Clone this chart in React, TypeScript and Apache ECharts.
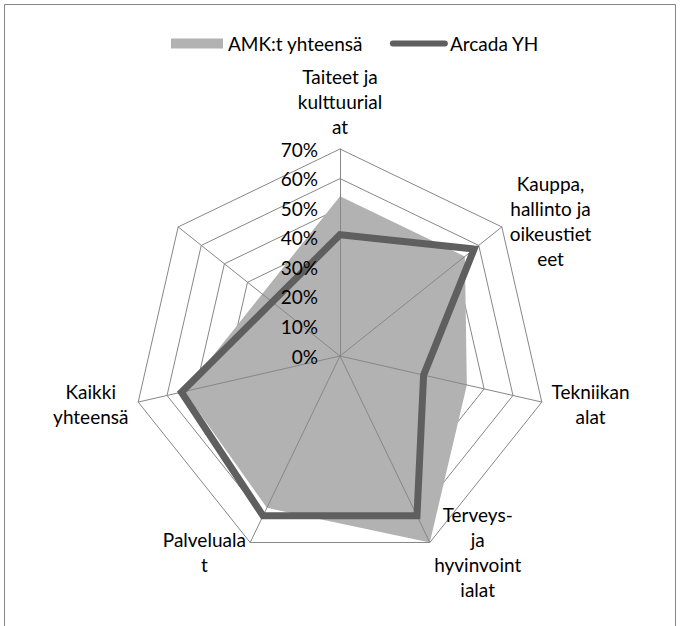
import React, { useEffect, useRef } from 'react';
import * as echarts from 'echarts';

// Categories clockwise from the top (line breaks as wrapped in the original)
const categories: string[] = [
  'Taiteet ja\nkulttuurial\nat',
  'Kauppa,\nhallinto ja\noikeustiet\neet',
  'Tekniikan\nalat',
  'Terveys-\nja\nhyvinvoint\nialat',
  'Palveluala\nt',
  'Kaikki\nyhteensä',
  '',
];
const seriesNames: string[] = ['AMK:t yhteensä', 'Arcada YH'];
const amkValues: (number | null)[] = [0.54, 0.54, 0.44, 0.7, 0.57, 0.54, null];
const arcadaValues: (number | null)[] = [0.41, 0.58, 0.29, 0.6, 0.6, 0.55, null];
const axisMin = 0;
const axisMax = 0.7;
const axisStep = 0.1;

const FONT = 'Lato';
const FS = 19;
const GRID = '#878787';
const FILL = '#b2b2b2';
const DARK = '#5f5f5f';

// Build polar [radius, categoryIndex] points, skipping empty categories, wrapping round.
function loopPoints(values: (number | null)[], wrap: number): [number, number][] {
  const pts: [number, number][] = [];
  values.forEach((v, i) => {
    if (v !== null && v !== undefined) pts.push([v, i]);
  });
  return pts.concat(pts.slice(0, wrap));
}

export default function App() {
  const ref = useRef<HTMLDivElement>(null);
  useEffect(() => {
    document.body.style.margin = '0';
    if (!ref.current) return;
    const chart = echarts.init(ref.current, undefined, { renderer: 'svg' });
    const n = categories.length;
    // ECharts radar places indicators counter-clockwise; reorder so they read clockwise.
    const indicator = categories.map((_, i) => ({
      name: categories[(n - i) % n],
      min: axisMin,
      max: axisMax,
    }));
    const center = [340, 356];
    const radius = 207;
    const nameFmt = (name: string) =>
      name ? name.split('\n').map((l) => `{c|${l}}`).join('\n') : '';
    const baseRadar = {
      center,
      radius,
      startAngle: 90,
      splitNumber: 7,
      shape: 'polygon',
      indicator,
      splitArea: { show: false },
      axisTick: { show: false },
      axisLabel: { show: false },
    };
    chart.setOption({
      animation: false,
      graphic: [
        {
          type: 'rect',
          silent: true,
          shape: { x: 4.5, y: 4.5, width: 671, height: 700 },
          style: { fill: 'none', stroke: '#868686', lineWidth: 1 },
        },
      ],
      legend: {
        left: 166,
        top: 29,
        itemWidth: 52,
        itemHeight: 10,
        itemGap: 27,
        textStyle: { fontFamily: FONT, fontSize: FS, color: '#000' },
        lineStyle: { cap: 'round', width: 6 },
        data: [
          { name: seriesNames[0], icon: 'rect', itemStyle: { color: FILL } },
          { name: seriesNames[1], itemStyle: { opacity: 0 } },
        ],
      },
      radar: [
        {
          ...baseRadar,
          z: 0,
          axisName: { show: false },
          splitLine: { lineStyle: { color: GRID, width: 1 } },
          axisLine: { show: false },
        },
        {
          ...baseRadar,
          z: 3,
          nameGap: 10,
          splitLine: { show: false },
          axisLine: { lineStyle: { color: GRID, width: 1 } },
          axisName: {
            show: true,
            color: '#000',
            fontFamily: FONT,
            fontSize: FS,
            lineHeight: 25,
            formatter: nameFmt,
            rich: {
              c: { align: 'center', color: '#000', fontFamily: FONT, fontSize: FS, lineHeight: 25 },
            },
          },
        },
      ],
      polar: { center, radius },
      // Angle axis: category index as value, full turn = number of categories
      angleAxis: {
        type: 'value',
        min: 0,
        max: n,
        startAngle: 90,
        clockwise: true,
        axisLine: { show: false },
        axisTick: { show: false },
        axisLabel: { show: false },
        splitLine: { show: false },
      },
      radiusAxis: {
        type: 'value',
        min: axisMin,
        max: axisMax,
        interval: axisStep,
        z: 5,
        axisLine: { show: false },
        axisTick: { show: false },
        splitLine: { show: false },
        axisLabel: {
          margin: 22,
          fontFamily: FONT,
          fontSize: FS,
          color: '#000',
          formatter: (v: number) => `${Math.round(v * 100)}%`,
        },
      },
      series: [
        {
          type: 'line',
          name: seriesNames[0],
          coordinateSystem: 'polar',
          data: loopPoints(amkValues, 1),
          symbol: 'none',
          clip: false,
          silent: true,
          z: 2,
          lineStyle: { width: 0, color: FILL, opacity: 0 },
          itemStyle: { color: FILL },
          areaStyle: { color: FILL, opacity: 1 },
        },
        {
          type: 'line',
          name: seriesNames[1],
          coordinateSystem: 'polar',
          data: loopPoints(arcadaValues, 2),
          symbol: 'none',
          clip: false,
          silent: true,
          z: 4,
          lineStyle: { width: 7, color: DARK, join: 'miter' },
          itemStyle: { color: DARK },
        },
      ],
    });
    return () => chart.dispose();
  }, []);
  return <div ref={ref} style={{ width: 681, height: 626 }} />;
}
